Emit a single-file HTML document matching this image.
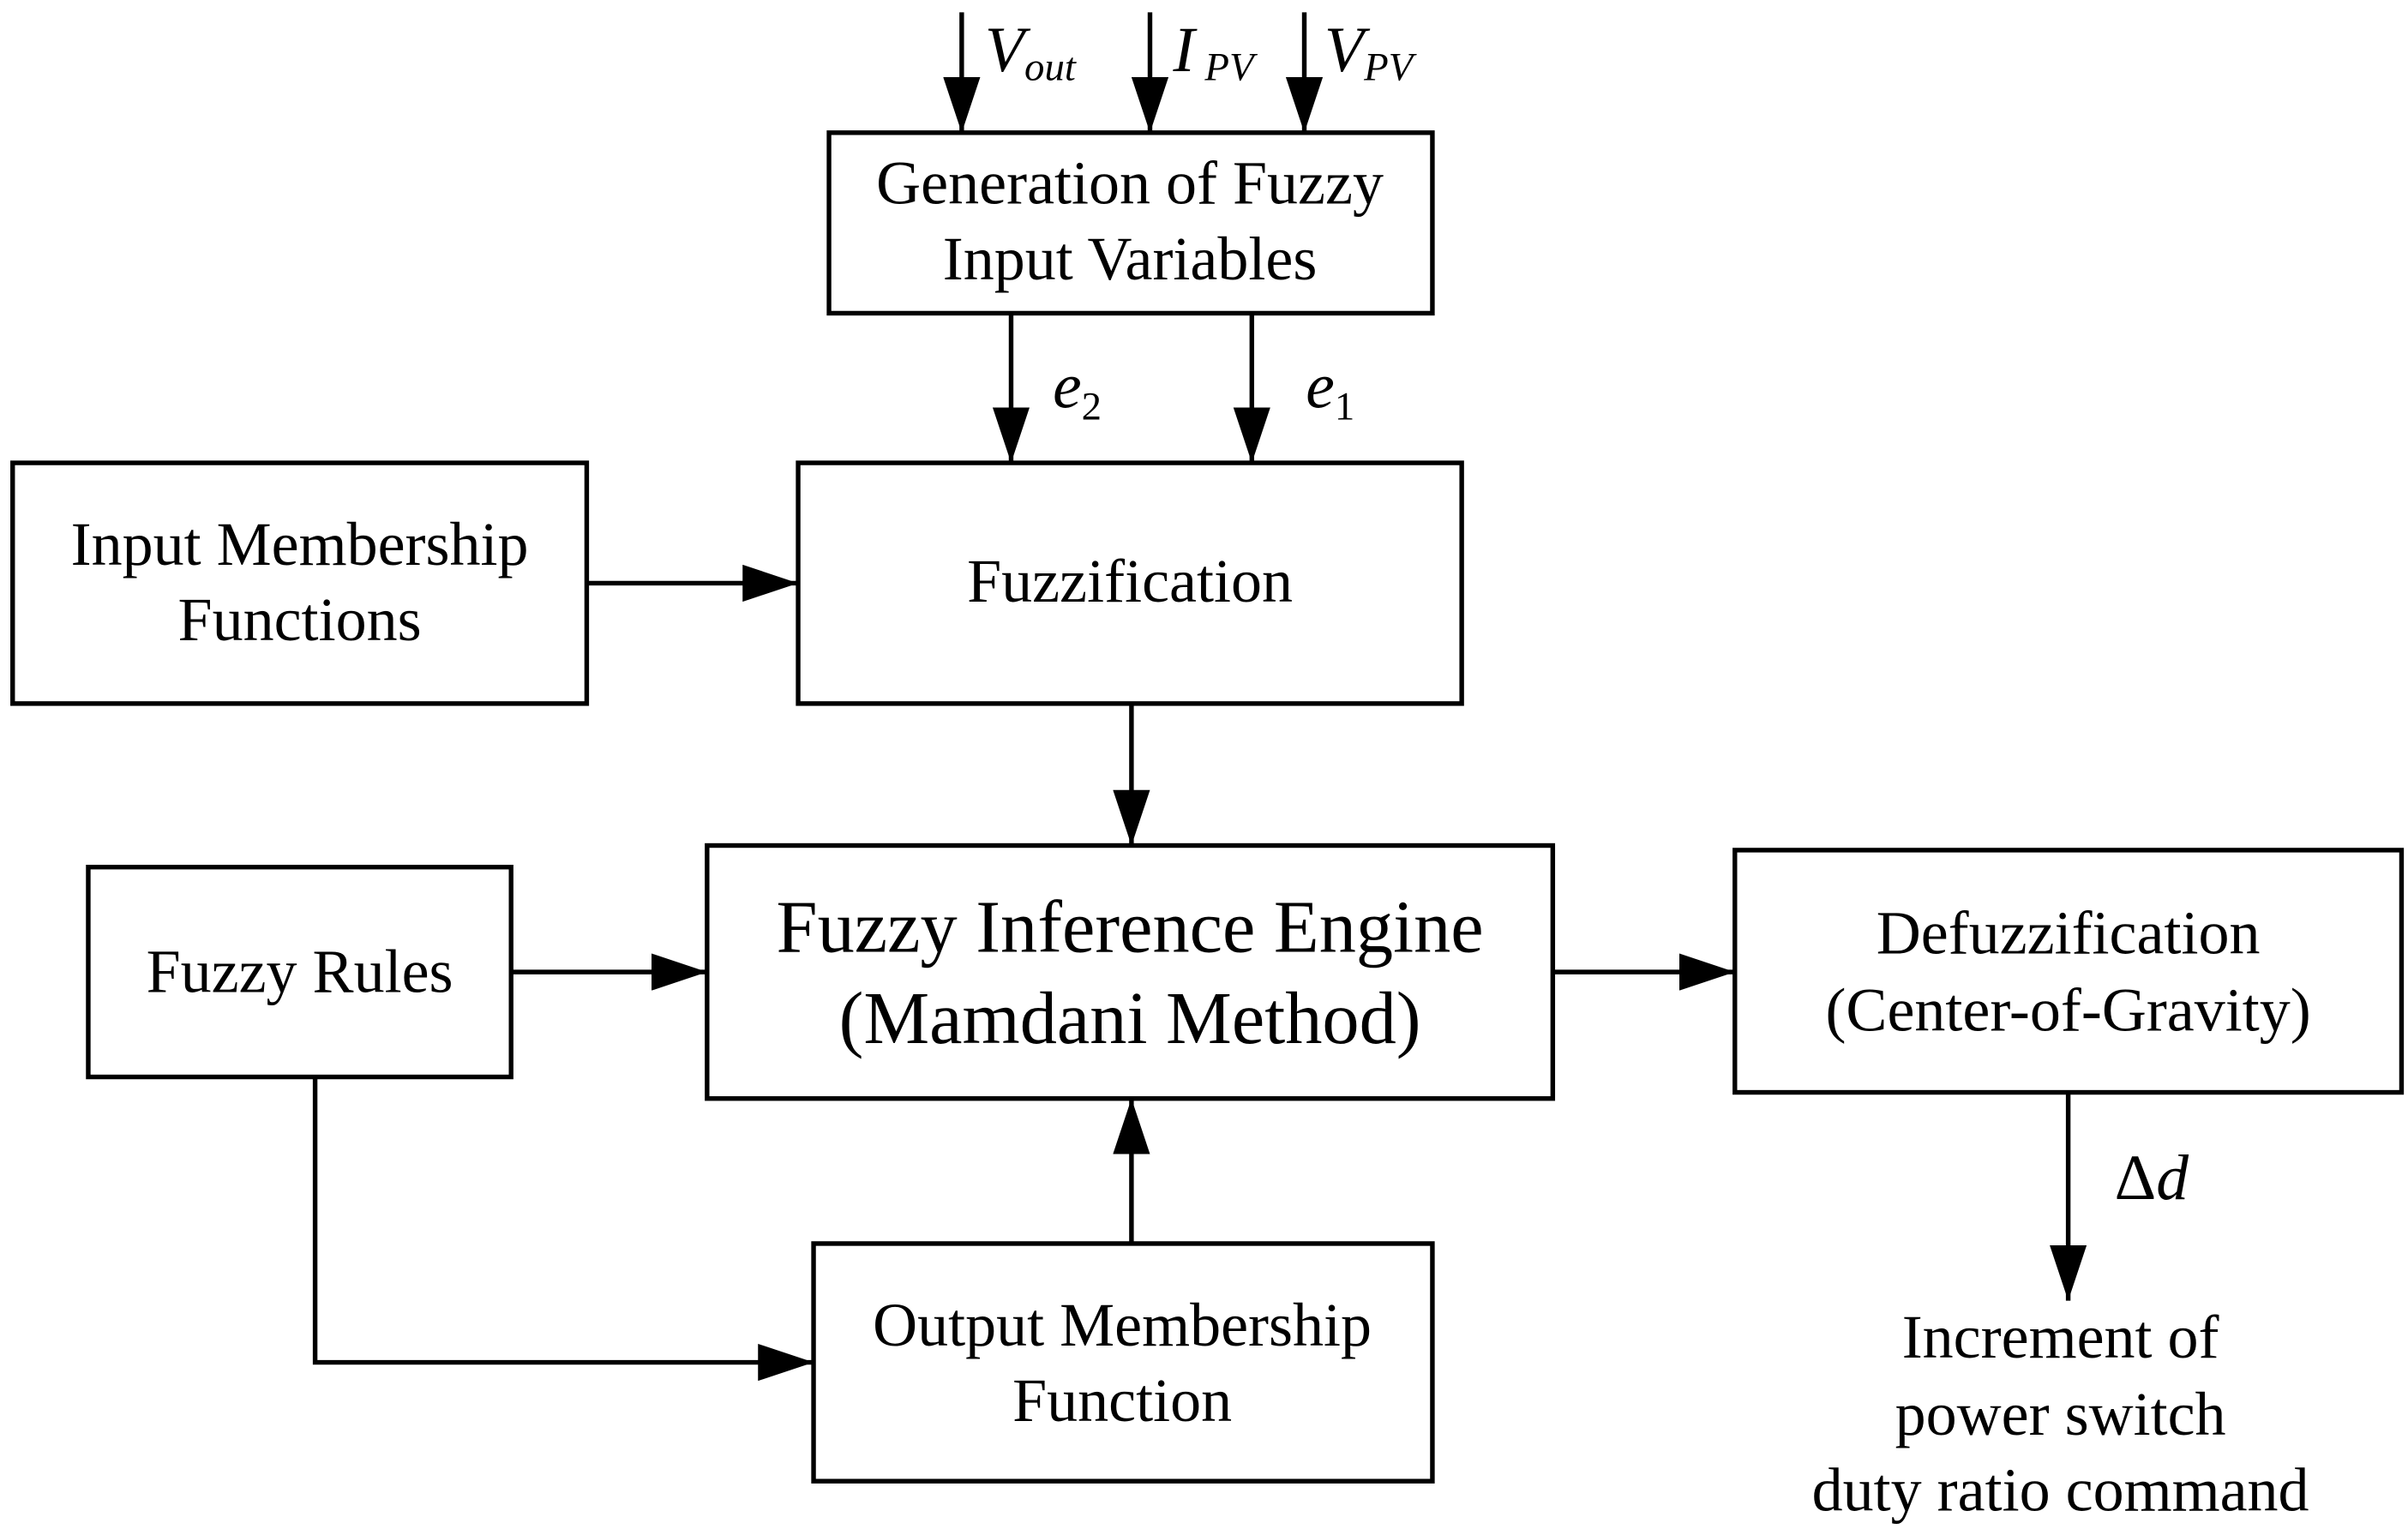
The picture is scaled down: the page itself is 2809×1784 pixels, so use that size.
<!DOCTYPE html>
<html><head><meta charset="utf-8"><style>html,body{margin:0;padding:0;background:#fff}svg{display:block}</style></head>
<body>
<svg width="2809" height="1784" viewBox="0 0 1560 991" xmlns="http://www.w3.org/2000/svg" font-family="Liberation Serif, serif">
<defs><marker id="b" markerWidth="36" markerHeight="24" refX="36" refY="12" orient="auto" markerUnits="userSpaceOnUse"><path d="M0,0 L36,12 L0,24 z" fill="#000"/></marker></defs>
<g fill="none" stroke="#000" stroke-width="3">
<rect x="537" y="86" width="391" height="117"/>
<rect x="517" y="300" width="430" height="156"/>
<rect x="8" y="300" width="372" height="156"/>
<rect x="458" y="548" width="548" height="164"/>
<rect x="57" y="562" width="274" height="136"/>
<rect x="1124" y="551" width="432" height="157"/>
<rect x="527" y="806" width="401" height="154"/>
<g marker-end="url(#b)">
<line x1="623" y1="8" x2="623" y2="86"/>
<line x1="745" y1="8" x2="745" y2="86"/>
<line x1="845" y1="8" x2="845" y2="86"/>
<line x1="655" y1="203" x2="655" y2="300"/>
<line x1="811" y1="203" x2="811" y2="300"/>
<line x1="380" y1="378" x2="517" y2="378"/>
<line x1="733" y1="456" x2="733" y2="548"/>
<line x1="331" y1="630" x2="458" y2="630"/>
<line x1="1006" y1="630" x2="1124" y2="630"/>
<line x1="733" y1="806" x2="733" y2="712"/>
<polyline points="204,698 204,883 527,883"/>
<line x1="1340" y1="708" x2="1340" y2="843"/>
</g></g>
<g font-size="40" text-anchor="middle" fill="#000">
<text x="732" y="132">Generation of Fuzzy</text>
<text x="732" y="181">Input Variables</text>
<text x="732" y="390">Fuzzification</text>
<text x="194" y="366">Input Membership</text>
<text x="194" y="415">Functions</text>
<text x="732" y="617" font-size="48">Fuzzy Inference Engine</text>
<text x="732" y="676" font-size="48">(Mamdani Method)</text>
<text x="194" y="643">Fuzzy Rules</text>
<text x="1340" y="618">Defuzzification</text>
<text x="1340" y="668">(Center-of-Gravity)</text>
<text x="727" y="872">Output Membership</text>
<text x="727" y="921">Function</text>
<text x="1335" y="880">Increment of</text>
<text x="1335" y="930">power switch</text>
<text x="1335" y="979">duty ratio command</text>
</g>
<g font-size="42" font-style="italic" fill="#000">
<text x="638" y="46">V<tspan font-size="26" dy="6">out</tspan></text>
<text x="760" y="46">I<tspan font-size="26" dy="6"> PV</tspan></text>
<text x="858" y="46">V<tspan font-size="26" dy="6">PV</tspan></text>
<text x="682" y="264">e<tspan font-size="26" dy="8" font-style="normal">2</tspan></text>
<text x="846" y="264">e<tspan font-size="26" dy="8" font-style="normal">1</tspan></text>
<text x="1370" y="777"><tspan font-style="normal">Δ</tspan>d</text>
</g>
</svg>
</body></html>
